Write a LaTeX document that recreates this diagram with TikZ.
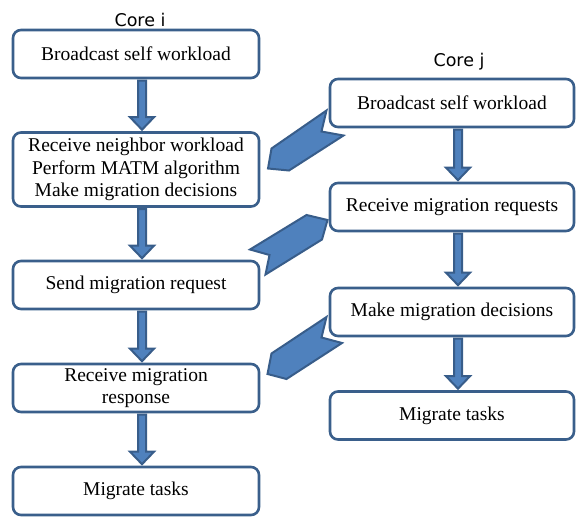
\documentclass[tikz,border=0pt]{standalone}
\usepackage{fontspec}
\setmainfont{Liberation Serif}
\newfontfamily\corefont{DejaVu Sans}
\newfontfamily\boxfont{Liberation Serif}
\usetikzlibrary{calc}
\definecolor{boxline}{HTML}{3A5F8B}
\definecolor{arrowfill}{HTML}{4F81BD}
\definecolor{arrowline}{HTML}{385D8A}
\tikzset{
  stepbox/.style={draw=boxline, line width=2.6pt, rounded corners=8pt, fill=white,
    align=center, font=\boxfont\fontsize{19.5}{22.5}\selectfont, inner sep=0pt},
  lbox/.style={stepbox, minimum width=246pt, minimum height=48pt},
  rbox/.style={stepbox, minimum width=244pt, minimum height=48pt},
  blockarrow/.style={fill=arrowfill, draw=arrowline, line width=2pt, line join=miter},
  corelabel/.style={font=\corefont\fontsize{17.5}{20}\selectfont, inner sep=0pt},
}
\newcommand{\mydownarrow}[2]{%
  \draw[blockarrow] ($(#1.south)+(2,1.3)$) -- ($(#2.north)+(2,-14)$)
    -- ($(#2.north)+(-6,-14)$) -- ($(#2.north)+(6,-1.5)$) -- ($(#2.north)+(18,-14)$)
    -- ($(#2.north)+(10,-14)$) -- ($(#1.south)+(10,1.3)$) -- cycle;}
\begin{document}
\begin{tikzpicture}[x=1pt,y=-1pt]
\useasboundingbox (0,0) rectangle (576,517);
% labels
\node[corelabel, anchor=base] (corei) at (140,26) {Core i};
\node[corelabel, anchor=base] (corej) at (459,66.5) {Core j};
% Core i boxes
\node[lbox] (L1) at (136,54) {Broadcast self workload};
\node[lbox, minimum height=74pt] (L2) at (136,169.5) {Receive neighbor workload\\Perform MATM algorithm\\Make migration decisions};
\node[lbox] (L3) at (136,285) {Send migration request};
\node[lbox] (L4) at (136,388) {Receive migration\\response};
\node[lbox] (L5) at (136,491) {Migrate tasks};
% Core j boxes
\node[rbox] (R1) at (452,103) {Broadcast self workload};
\node[rbox] (R2) at (452,207) {Receive migration requests};
\node[rbox] (R3) at (452,312) {Make migration decisions};
\node[rbox] (R4) at (452,415.5) {Migrate tasks};
% vertical block arrows
\mydownarrow{L1}{L2}
\mydownarrow{L2}{L3}
\mydownarrow{L3}{L4}
\mydownarrow{L4}{L5}
\mydownarrow{R1}{R2}
\mydownarrow{R2}{R3}
\mydownarrow{R3}{R4}
% chevron arrows between cores
\draw[blockarrow] (326.5,110.5) -- (321.5,131.5) -- (343.5,135.5) -- (289,170.5)
  -- (268,168.5) -- (271.5,148.5) -- cycle;
\draw[blockarrow] (250,249.5) -- (269.5,255) -- (265.5,274.5) -- (322,239.5)
  -- (327.5,220) -- (306.5,215) -- cycle;
\draw[blockarrow] (326.5,317) -- (321.5,337.5) -- (342,343) -- (286.5,379)
  -- (267.5,374) -- (271.5,353.5) -- cycle;
\end{tikzpicture}
\end{document}
